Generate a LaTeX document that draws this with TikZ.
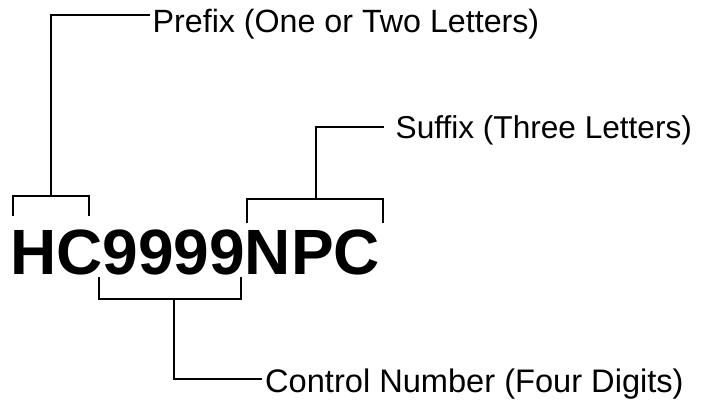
\documentclass[tikz,border=0pt]{standalone}
\usepackage{fontspec}
\setmainfont{Liberation Sans}
\begin{document}
\begin{tikzpicture}[x=1pt,y=-1pt,
  bracket/.style={line width=2.6pt, line cap=butt, line join=miter, black},
  label/.style={anchor=base west, inner sep=0pt},
  code/.style={font=\fontsize{64}{70}\selectfont\bfseries, anchor=base west, inner sep=0pt}]
\useasboundingbox (0,0) rectangle (701,402);
% main code
\node[code] (code) at (10,274) {HC9999NPC};
% labels
\node[label, font=\fontsize{32.2}{36}\selectfont] (prefix) at (152.5,32) {Prefix (One or Two Letters)};
\node[label, font=\fontsize{31.6}{36}\selectfont] (suffix) at (395.5,138) {Suffix (Three Letters)};
\node[label, font=\fontsize{32.6}{36}\selectfont] (control) at (265,392) {Control Number (Four Digits)};
% prefix bracket
\coordinate (pl) at (13,216);
\coordinate (pr) at (89,216);
\coordinate (pstem) at (51,196);
\coordinate (pend) at (150,15);
\draw[bracket] (pl) |- (pstem) -| (pr);
\draw[bracket] (pstem) |- (pend);
% suffix bracket
\coordinate (sl) at (247,223);
\coordinate (sr) at (383,223);
\coordinate (sstem) at (316,199);
\coordinate (send) at (384,127);
\draw[bracket] (sl) |- (sstem) -| (sr);
\draw[bracket] (sstem) |- (send);
% control bracket
\coordinate (cl) at (99,277);
\coordinate (cr) at (241,277);
\coordinate (cstem) at (174,299);
\coordinate (cend) at (262,379);
\draw[bracket] (cl) |- (cstem) -| (cr);
\draw[bracket] (cstem) |- (cend);
\end{tikzpicture}
\end{document}
